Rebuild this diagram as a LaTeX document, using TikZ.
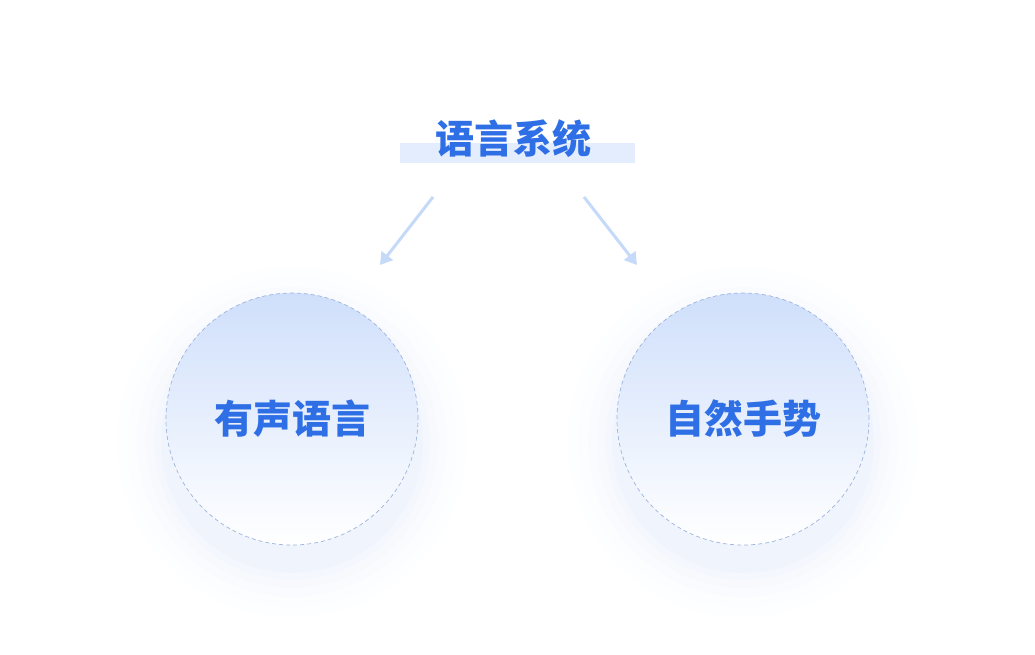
\documentclass[tikz,border=0pt]{standalone}
\usepackage{fontspec}
\newfontfamily\cjk{Noto Sans CJK SC}
\usetikzlibrary{arrows.meta}
\definecolor{tblue}{HTML}{2F6FE6}
\definecolor{cfill}{HTML}{CFDFFB}
\definecolor{bar}{HTML}{E3EDFD}
\definecolor{arr}{HTML}{C5D9F8}
\definecolor{shad}{HTML}{3A6FD8}
\definecolor{brd}{HTML}{9DB4DC}
\tikzset{
  lbl/.style={font=\cjk\bfseries\fontsize{39}{44}\selectfont, text=tblue},
  circ/.style={circle, minimum size=252pt, draw=brd, dash pattern=on 4pt off 3pt, line width=0.7pt, top color=cfill, bottom color=white},
  conn/.style={draw=arr, line width=3pt, -{Triangle[length=12pt,width=14pt]}}
}
\begin{document}
\begin{tikzpicture}[x=1pt,y=-1pt]
\useasboundingbox (0,0) rectangle (1035,655);
\fill[bar] (400,143) rectangle (635,163);
\node[lbl] (t) at (513,139) {语言系统};
\foreach \cx in {292,743}{
  \foreach \r/\o in {175/0.007,165/0.009,155/0.011,146/0.013,138/0.015,131/0.018}{
    \fill[shad, opacity=\o] (\cx,442) circle (\r);
  }
}
\node[circ] (a) at (292,419) {};
\node[circ] (b) at (743,419) {};
\node[lbl] at (a) {有声语言};
\node[lbl] at (b) {自然手势};
\coordinate (l1) at (433,197); \coordinate (l2) at (380,265);
\coordinate (r1) at (584,197); \coordinate (r2) at (637,265);
\draw[conn] (l1) -- (l2);
\draw[conn] (r1) -- (r2);
\end{tikzpicture}
\end{document}
